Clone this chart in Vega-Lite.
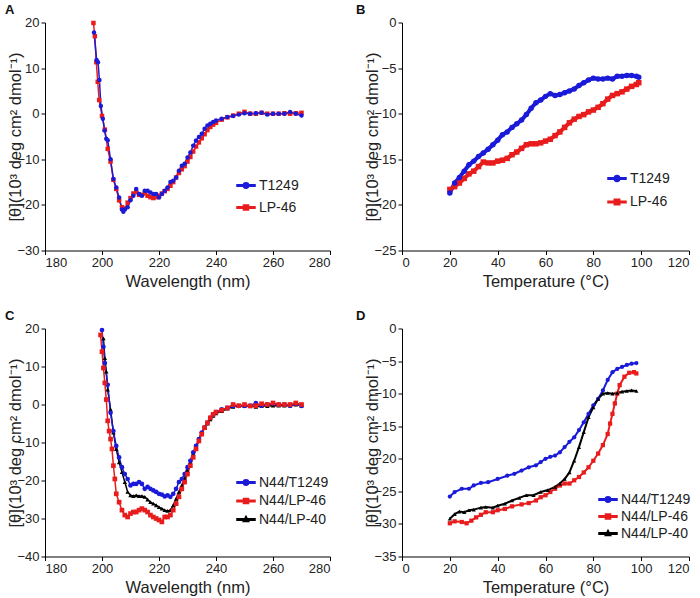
{
  "$schema": "https://vega.github.io/schema/vega-lite/v6.json",
  "background": "white",
  "padding": {"left": 5, "top": 3.5, "right": 5, "bottom": 5},
  "config": {
    "font": "Liberation Sans",
    "view": {"stroke": null},
    "axis": {"grid": false, "domainColor": "#000", "tickColor": "#000", "labelColor": "#222", "titleColor": "#222", "labelFontSize": 13, "titleFontSize": 16.5, "titleFontWeight": "normal", "tickSize": 4, "labelPadding": 2, "domainWidth": 1, "tickWidth": 1},
    "axisLeft": {"titleX": -29.5, "titleBaseline": "middle"},
    "title": {"fontSize": 13, "fontWeight": "bold", "anchor": "start", "frame": "group", "color": "#111"},
    "legend": {"orient": "none", "title": null, "labelFontSize": 14, "labelColor": "#222", "symbolSize": 324, "labelOffset": 3, "symbolOffset": 0, "padding": 0, "symbolOpacity": 1}
  },
  "resolve": {"scale": {"color": "independent", "shape": "independent", "x": "independent", "y": "independent"}, "legend": {"color": "independent", "shape": "independent"}},
  "datasets": {
    "a": [
      {"s":"LP-46","x":197,"y":19.9},{"s":"LP-46","x":197.5,"y":17},{"s":"LP-46","x":198,"y":11.3},{"s":"LP-46","x":198.5,"y":7},{"s":"LP-46","x":199,"y":3},{"s":"LP-46","x":200,"y":-0.5},{"s":"LP-46","x":201,"y":-3.5},{"s":"LP-46","x":202,"y":-7.7},{"s":"LP-46","x":203,"y":-10.5},{"s":"LP-46","x":204,"y":-14.5},{"s":"LP-46","x":205,"y":-16.5},{"s":"LP-46","x":206,"y":-19},{"s":"LP-46","x":207,"y":-20.5},{"s":"LP-46","x":208,"y":-20.8},{"s":"LP-46","x":209,"y":-19.5},{"s":"LP-46","x":210,"y":-18.5},{"s":"LP-46","x":211,"y":-17.5},{"s":"LP-46","x":212,"y":-17.2},{"s":"LP-46","x":213,"y":-17.8},{"s":"LP-46","x":214,"y":-17.8},{"s":"LP-46","x":215,"y":-17.5},{"s":"LP-46","x":216,"y":-18},{"s":"LP-46","x":217,"y":-18.3},{"s":"LP-46","x":218,"y":-18.5},{"s":"LP-46","x":219,"y":-18.3},{"s":"LP-46","x":220,"y":-18},{"s":"LP-46","x":221,"y":-17.5},{"s":"LP-46","x":222,"y":-17},{"s":"LP-46","x":223,"y":-16.5},{"s":"LP-46","x":224,"y":-15.8},{"s":"LP-46","x":225,"y":-15},{"s":"LP-46","x":226,"y":-14},{"s":"LP-46","x":227,"y":-13},{"s":"LP-46","x":228,"y":-12.2},{"s":"LP-46","x":229,"y":-11.5},{"s":"LP-46","x":230,"y":-10.5},{"s":"LP-46","x":231,"y":-9.5},{"s":"LP-46","x":232,"y":-8.3},{"s":"LP-46","x":233,"y":-7.2},{"s":"LP-46","x":234,"y":-6.3},{"s":"LP-46","x":235,"y":-5.4},{"s":"LP-46","x":236,"y":-4.5},{"s":"LP-46","x":237,"y":-3.6},{"s":"LP-46","x":238,"y":-2.9},{"s":"LP-46","x":239,"y":-2.4},{"s":"LP-46","x":240,"y":-2},{"s":"LP-46","x":242,"y":-1.3},{"s":"LP-46","x":244,"y":-0.8},{"s":"LP-46","x":246,"y":-0.4},{"s":"LP-46","x":248,"y":0},{"s":"LP-46","x":250,"y":0.4},{"s":"LP-46","x":252,"y":0},{"s":"LP-46","x":254,"y":0},{"s":"LP-46","x":256,"y":0.2},{"s":"LP-46","x":258,"y":0},{"s":"LP-46","x":260,"y":0},{"s":"LP-46","x":262,"y":0},{"s":"LP-46","x":264,"y":0.1},{"s":"LP-46","x":266,"y":0},{"s":"LP-46","x":268,"y":0.1},{"s":"LP-46","x":270,"y":0.2},
      {"s":"T1249","x":197.2,"y":17.8},{"s":"T1249","x":198.1,"y":11.8},{"s":"T1249","x":198.6,"y":11.3},{"s":"T1249","x":199.1,"y":7.4},{"s":"T1249","x":199.6,"y":1.7},{"s":"T1249","x":200.3,"y":-1.1},{"s":"T1249","x":200.9,"y":-3.7},{"s":"T1249","x":201.5,"y":-5.5},{"s":"T1249","x":202,"y":-5.8},{"s":"T1249","x":203,"y":-10},{"s":"T1249","x":204,"y":-14.3},{"s":"T1249","x":205,"y":-16.2},{"s":"T1249","x":206,"y":-18.4},{"s":"T1249","x":207,"y":-21},{"s":"T1249","x":207.5,"y":-21.5},{"s":"T1249","x":208,"y":-21},{"s":"T1249","x":209,"y":-20.5},{"s":"T1249","x":210,"y":-19},{"s":"T1249","x":211,"y":-18},{"s":"T1249","x":212,"y":-16.5},{"s":"T1249","x":213,"y":-17.6},{"s":"T1249","x":214,"y":-18},{"s":"T1249","x":215,"y":-16.9},{"s":"T1249","x":216,"y":-16.9},{"s":"T1249","x":217,"y":-17.3},{"s":"T1249","x":218,"y":-17.6},{"s":"T1249","x":219,"y":-17.6},{"s":"T1249","x":220,"y":-18.4},{"s":"T1249","x":221,"y":-17.6},{"s":"T1249","x":222,"y":-16.9},{"s":"T1249","x":223,"y":-16.2},{"s":"T1249","x":224,"y":-15},{"s":"T1249","x":225,"y":-14.7},{"s":"T1249","x":226,"y":-14},{"s":"T1249","x":227,"y":-12.5},{"s":"T1249","x":228,"y":-11.4},{"s":"T1249","x":229,"y":-11},{"s":"T1249","x":230,"y":-9.6},{"s":"T1249","x":231,"y":-8.5},{"s":"T1249","x":232,"y":-7},{"s":"T1249","x":233,"y":-5.9},{"s":"T1249","x":234,"y":-5.1},{"s":"T1249","x":235,"y":-4.4},{"s":"T1249","x":236,"y":-3.3},{"s":"T1249","x":237,"y":-2.6},{"s":"T1249","x":238,"y":-2.2},{"s":"T1249","x":239,"y":-1.8},{"s":"T1249","x":240,"y":-1.5},{"s":"T1249","x":242,"y":-1.1},{"s":"T1249","x":244,"y":-0.7},{"s":"T1249","x":246,"y":-0.5},{"s":"T1249","x":248,"y":-0.2},{"s":"T1249","x":250,"y":0.1},{"s":"T1249","x":252,"y":0},{"s":"T1249","x":254,"y":0.1},{"s":"T1249","x":256,"y":0.2},{"s":"T1249","x":258,"y":-0.2},{"s":"T1249","x":260,"y":0},{"s":"T1249","x":262,"y":0},{"s":"T1249","x":264,"y":0},{"s":"T1249","x":266,"y":0.4},{"s":"T1249","x":268,"y":0},{"s":"T1249","x":270,"y":-0.4}
    ],
    "b": [
      {"s":"LP-46","x":20,"y":-18.3},{"s":"LP-46","x":22,"y":-18},{"s":"LP-46","x":24,"y":-17.6},{"s":"LP-46","x":26,"y":-17.1},{"s":"LP-46","x":28,"y":-16.6},{"s":"LP-46","x":30,"y":-16.3},{"s":"LP-46","x":32,"y":-15.8},{"s":"LP-46","x":34,"y":-15.3},{"s":"LP-46","x":36,"y":-15.4},{"s":"LP-46","x":38,"y":-15.4},{"s":"LP-46","x":40,"y":-15.2},{"s":"LP-46","x":42,"y":-15.1},{"s":"LP-46","x":44,"y":-14.9},{"s":"LP-46","x":46,"y":-14.5},{"s":"LP-46","x":48,"y":-14.2},{"s":"LP-46","x":50,"y":-13.8},{"s":"LP-46","x":52,"y":-13.4},{"s":"LP-46","x":54,"y":-13.3},{"s":"LP-46","x":56,"y":-13.3},{"s":"LP-46","x":58,"y":-13.2},{"s":"LP-46","x":60,"y":-13},{"s":"LP-46","x":62,"y":-12.8},{"s":"LP-46","x":64,"y":-12.4},{"s":"LP-46","x":66,"y":-12},{"s":"LP-46","x":68,"y":-11.5},{"s":"LP-46","x":70,"y":-11},{"s":"LP-46","x":72,"y":-10.6},{"s":"LP-46","x":74,"y":-10.3},{"s":"LP-46","x":76,"y":-10.1},{"s":"LP-46","x":78,"y":-9.8},{"s":"LP-46","x":80,"y":-9.6},{"s":"LP-46","x":82,"y":-9.3},{"s":"LP-46","x":84,"y":-8.9},{"s":"LP-46","x":86,"y":-8.4},{"s":"LP-46","x":88,"y":-8},{"s":"LP-46","x":90,"y":-7.8},{"s":"LP-46","x":92,"y":-7.6},{"s":"LP-46","x":94,"y":-7.3},{"s":"LP-46","x":96,"y":-7},{"s":"LP-46","x":98,"y":-6.8},{"s":"LP-46","x":99,"y":-6.6},
      {"s":"T1249","x":20,"y":-18.7},{"s":"T1249","x":22,"y":-17.6},{"s":"T1249","x":24,"y":-17},{"s":"T1249","x":26,"y":-16.3},{"s":"T1249","x":28,"y":-15.6},{"s":"T1249","x":30,"y":-15.2},{"s":"T1249","x":32,"y":-14.7},{"s":"T1249","x":34,"y":-14.3},{"s":"T1249","x":36,"y":-13.9},{"s":"T1249","x":38,"y":-13.4},{"s":"T1249","x":40,"y":-12.9},{"s":"T1249","x":42,"y":-12.3},{"s":"T1249","x":44,"y":-12},{"s":"T1249","x":46,"y":-11.5},{"s":"T1249","x":48,"y":-11.1},{"s":"T1249","x":50,"y":-10.7},{"s":"T1249","x":52,"y":-10.1},{"s":"T1249","x":54,"y":-9.4},{"s":"T1249","x":56,"y":-8.8},{"s":"T1249","x":58,"y":-8.5},{"s":"T1249","x":60,"y":-8.1},{"s":"T1249","x":62,"y":-7.8},{"s":"T1249","x":64,"y":-8},{"s":"T1249","x":66,"y":-7.9},{"s":"T1249","x":68,"y":-7.7},{"s":"T1249","x":70,"y":-7.5},{"s":"T1249","x":72,"y":-7.3},{"s":"T1249","x":74,"y":-6.9},{"s":"T1249","x":76,"y":-6.6},{"s":"T1249","x":78,"y":-6.3},{"s":"T1249","x":80,"y":-6.1},{"s":"T1249","x":82,"y":-6.2},{"s":"T1249","x":84,"y":-6.2},{"s":"T1249","x":86,"y":-6.1},{"s":"T1249","x":88,"y":-6.2},{"s":"T1249","x":90,"y":-5.9},{"s":"T1249","x":92,"y":-5.9},{"s":"T1249","x":94,"y":-5.8},{"s":"T1249","x":96,"y":-5.8},{"s":"T1249","x":98,"y":-5.9},{"s":"T1249","x":99,"y":-6}
    ],
    "c": [
      {"s":"N44/LP-40","x":200.5,"y":17.4},{"s":"N44/LP-40","x":201,"y":12.2},{"s":"N44/LP-40","x":201.5,"y":8.7},{"s":"N44/LP-40","x":202,"y":3.9},{"s":"N44/LP-40","x":203,"y":-1.3},{"s":"N44/LP-40","x":204,"y":-7.4},{"s":"N44/LP-40","x":205,"y":-11.7},{"s":"N44/LP-40","x":206,"y":-15.2},{"s":"N44/LP-40","x":207,"y":-17.8},{"s":"N44/LP-40","x":208,"y":-20.4},{"s":"N44/LP-40","x":209,"y":-23},{"s":"N44/LP-40","x":210,"y":-23.9},{"s":"N44/LP-40","x":211,"y":-24.1},{"s":"N44/LP-40","x":212,"y":-23.9},{"s":"N44/LP-40","x":213,"y":-24.1},{"s":"N44/LP-40","x":214,"y":-24.1},{"s":"N44/LP-40","x":215,"y":-24.3},{"s":"N44/LP-40","x":216,"y":-25},{"s":"N44/LP-40","x":217,"y":-25.7},{"s":"N44/LP-40","x":218,"y":-26.1},{"s":"N44/LP-40","x":219,"y":-26.5},{"s":"N44/LP-40","x":220,"y":-27},{"s":"N44/LP-40","x":221,"y":-27.4},{"s":"N44/LP-40","x":222,"y":-27.8},{"s":"N44/LP-40","x":223,"y":-28},{"s":"N44/LP-40","x":224,"y":-27.8},{"s":"N44/LP-40","x":225,"y":-26.5},{"s":"N44/LP-40","x":226,"y":-24.8},{"s":"N44/LP-40","x":227,"y":-23},{"s":"N44/LP-40","x":228,"y":-21.3},{"s":"N44/LP-40","x":229,"y":-19.4},{"s":"N44/LP-40","x":230,"y":-17.4},{"s":"N44/LP-40","x":231,"y":-15.2},{"s":"N44/LP-40","x":232,"y":-13},{"s":"N44/LP-40","x":233,"y":-11.1},{"s":"N44/LP-40","x":234,"y":-9.3},{"s":"N44/LP-40","x":235,"y":-7.6},{"s":"N44/LP-40","x":236,"y":-6.1},{"s":"N44/LP-40","x":237,"y":-5},{"s":"N44/LP-40","x":238,"y":-3.9},{"s":"N44/LP-40","x":239,"y":-3},{"s":"N44/LP-40","x":240,"y":-2.3},{"s":"N44/LP-40","x":242,"y":-1.7},{"s":"N44/LP-40","x":244,"y":-1.1},{"s":"N44/LP-40","x":246,"y":-0.6},{"s":"N44/LP-40","x":248,"y":-0.4},{"s":"N44/LP-40","x":250,"y":-0.4},{"s":"N44/LP-40","x":252,"y":-0.4},{"s":"N44/LP-40","x":254,"y":-0.6},{"s":"N44/LP-40","x":256,"y":-0.4},{"s":"N44/LP-40","x":258,"y":-0.4},{"s":"N44/LP-40","x":260,"y":-0.3},{"s":"N44/LP-40","x":262,"y":-0.3},{"s":"N44/LP-40","x":264,"y":-0.3},{"s":"N44/LP-40","x":266,"y":-0.3},{"s":"N44/LP-40","x":268,"y":0},{"s":"N44/LP-40","x":270,"y":-0.3},
      {"s":"N44/T1249","x":200,"y":19.6},{"s":"N44/T1249","x":200.5,"y":15.2},{"s":"N44/T1249","x":201,"y":10.9},{"s":"N44/T1249","x":202,"y":5.2},{"s":"N44/T1249","x":203,"y":-2.2},{"s":"N44/T1249","x":204,"y":-7},{"s":"N44/T1249","x":205,"y":-10.9},{"s":"N44/T1249","x":206,"y":-13.9},{"s":"N44/T1249","x":207,"y":-16.5},{"s":"N44/T1249","x":208,"y":-18.3},{"s":"N44/T1249","x":209,"y":-19.6},{"s":"N44/T1249","x":210,"y":-21.3},{"s":"N44/T1249","x":211,"y":-20.9},{"s":"N44/T1249","x":212,"y":-20.9},{"s":"N44/T1249","x":213,"y":-20.4},{"s":"N44/T1249","x":214,"y":-20.9},{"s":"N44/T1249","x":215,"y":-22.2},{"s":"N44/T1249","x":216,"y":-21.7},{"s":"N44/T1249","x":217,"y":-22.2},{"s":"N44/T1249","x":218,"y":-22.6},{"s":"N44/T1249","x":219,"y":-23},{"s":"N44/T1249","x":220,"y":-23.5},{"s":"N44/T1249","x":221,"y":-23.7},{"s":"N44/T1249","x":222,"y":-24.2},{"s":"N44/T1249","x":223,"y":-23.9},{"s":"N44/T1249","x":224,"y":-24.3},{"s":"N44/T1249","x":225,"y":-23.5},{"s":"N44/T1249","x":226,"y":-22.2},{"s":"N44/T1249","x":227,"y":-20.4},{"s":"N44/T1249","x":228,"y":-19.6},{"s":"N44/T1249","x":229,"y":-18.3},{"s":"N44/T1249","x":230,"y":-16.5},{"s":"N44/T1249","x":231,"y":-14.8},{"s":"N44/T1249","x":232,"y":-12.6},{"s":"N44/T1249","x":233,"y":-10.9},{"s":"N44/T1249","x":234,"y":-9.1},{"s":"N44/T1249","x":235,"y":-7.4},{"s":"N44/T1249","x":236,"y":-6.1},{"s":"N44/T1249","x":237,"y":-4.8},{"s":"N44/T1249","x":238,"y":-3.5},{"s":"N44/T1249","x":239,"y":-2.6},{"s":"N44/T1249","x":240,"y":-2},{"s":"N44/T1249","x":242,"y":-1.3},{"s":"N44/T1249","x":244,"y":-0.9},{"s":"N44/T1249","x":246,"y":-0.4},{"s":"N44/T1249","x":248,"y":-0.4},{"s":"N44/T1249","x":250,"y":-0.4},{"s":"N44/T1249","x":252,"y":-0.3},{"s":"N44/T1249","x":254,"y":0.4},{"s":"N44/T1249","x":256,"y":-0.3},{"s":"N44/T1249","x":258,"y":0},{"s":"N44/T1249","x":260,"y":0.2},{"s":"N44/T1249","x":262,"y":0},{"s":"N44/T1249","x":264,"y":0},{"s":"N44/T1249","x":266,"y":-0.3},{"s":"N44/T1249","x":268,"y":0.2},{"s":"N44/T1249","x":270,"y":-0.4},
      {"s":"N44/LP-46","x":199.5,"y":18.3},{"s":"N44/LP-46","x":200,"y":13.9},{"s":"N44/LP-46","x":200.5,"y":9.6},{"s":"N44/LP-46","x":201,"y":5.7},{"s":"N44/LP-46","x":201.5,"y":1.3},{"s":"N44/LP-46","x":202,"y":-4.3},{"s":"N44/LP-46","x":202.5,"y":-7},{"s":"N44/LP-46","x":203,"y":-9.1},{"s":"N44/LP-46","x":203.5,"y":-11.7},{"s":"N44/LP-46","x":204,"y":-16.1},{"s":"N44/LP-46","x":204.5,"y":-19.6},{"s":"N44/LP-46","x":205,"y":-23.5},{"s":"N44/LP-46","x":206,"y":-25.7},{"s":"N44/LP-46","x":207,"y":-27.8},{"s":"N44/LP-46","x":208,"y":-29.1},{"s":"N44/LP-46","x":209,"y":-29.6},{"s":"N44/LP-46","x":210,"y":-28.7},{"s":"N44/LP-46","x":211,"y":-28.3},{"s":"N44/LP-46","x":212,"y":-28.3},{"s":"N44/LP-46","x":213,"y":-27.8},{"s":"N44/LP-46","x":214,"y":-27.4},{"s":"N44/LP-46","x":215,"y":-27.8},{"s":"N44/LP-46","x":216,"y":-28.3},{"s":"N44/LP-46","x":217,"y":-29.1},{"s":"N44/LP-46","x":218,"y":-29.6},{"s":"N44/LP-46","x":219,"y":-30},{"s":"N44/LP-46","x":220,"y":-30.4},{"s":"N44/LP-46","x":221,"y":-30.9},{"s":"N44/LP-46","x":222,"y":-29.6},{"s":"N44/LP-46","x":223,"y":-29.6},{"s":"N44/LP-46","x":224,"y":-29.1},{"s":"N44/LP-46","x":225,"y":-27.8},{"s":"N44/LP-46","x":226,"y":-26.1},{"s":"N44/LP-46","x":227,"y":-24.3},{"s":"N44/LP-46","x":228,"y":-22.2},{"s":"N44/LP-46","x":229,"y":-20.4},{"s":"N44/LP-46","x":230,"y":-18.3},{"s":"N44/LP-46","x":231,"y":-16.1},{"s":"N44/LP-46","x":232,"y":-13.9},{"s":"N44/LP-46","x":233,"y":-11.7},{"s":"N44/LP-46","x":234,"y":-9.6},{"s":"N44/LP-46","x":235,"y":-7.8},{"s":"N44/LP-46","x":236,"y":-6.1},{"s":"N44/LP-46","x":237,"y":-4.8},{"s":"N44/LP-46","x":238,"y":-3.5},{"s":"N44/LP-46","x":239,"y":-2.6},{"s":"N44/LP-46","x":240,"y":-2},{"s":"N44/LP-46","x":242,"y":-1.5},{"s":"N44/LP-46","x":244,"y":-0.9},{"s":"N44/LP-46","x":246,"y":0},{"s":"N44/LP-46","x":248,"y":-0.3},{"s":"N44/LP-46","x":250,"y":0},{"s":"N44/LP-46","x":252,"y":-0.4},{"s":"N44/LP-46","x":254,"y":-0.3},{"s":"N44/LP-46","x":256,"y":0.2},{"s":"N44/LP-46","x":258,"y":0},{"s":"N44/LP-46","x":260,"y":0.4},{"s":"N44/LP-46","x":262,"y":0},{"s":"N44/LP-46","x":264,"y":0},{"s":"N44/LP-46","x":266,"y":0},{"s":"N44/LP-46","x":268,"y":0.4},{"s":"N44/LP-46","x":270,"y":0}
    ],
    "d": [
      {"s":"N44/T1249","x":20,"y":-25.8},{"s":"N44/T1249","x":22,"y":-25.1},{"s":"N44/T1249","x":25,"y":-24.6},{"s":"N44/T1249","x":28,"y":-24.6},{"s":"N44/T1249","x":30,"y":-24.1},{"s":"N44/T1249","x":33,"y":-23.7},{"s":"N44/T1249","x":36,"y":-23.6},{"s":"N44/T1249","x":40,"y":-23.1},{"s":"N44/T1249","x":44,"y":-22.6},{"s":"N44/T1249","x":47,"y":-22.3},{"s":"N44/T1249","x":50,"y":-21.8},{"s":"N44/T1249","x":53,"y":-21.3},{"s":"N44/T1249","x":56,"y":-21},{"s":"N44/T1249","x":58,"y":-20.5},{"s":"N44/T1249","x":60,"y":-20},{"s":"N44/T1249","x":62,"y":-19.7},{"s":"N44/T1249","x":64,"y":-19.5},{"s":"N44/T1249","x":66,"y":-19},{"s":"N44/T1249","x":68,"y":-18.2},{"s":"N44/T1249","x":70,"y":-17.4},{"s":"N44/T1249","x":72,"y":-16.7},{"s":"N44/T1249","x":74,"y":-15.6},{"s":"N44/T1249","x":76,"y":-14.4},{"s":"N44/T1249","x":78,"y":-13.1},{"s":"N44/T1249","x":80,"y":-11.8},{"s":"N44/T1249","x":82,"y":-10.8},{"s":"N44/T1249","x":84,"y":-9.5},{"s":"N44/T1249","x":86,"y":-7.9},{"s":"N44/T1249","x":88,"y":-6.7},{"s":"N44/T1249","x":90,"y":-6.2},{"s":"N44/T1249","x":92,"y":-5.9},{"s":"N44/T1249","x":94,"y":-5.6},{"s":"N44/T1249","x":96,"y":-5.4},{"s":"N44/T1249","x":98,"y":-5.3},
      {"s":"N44/LP-46","x":20,"y":-29.9},{"s":"N44/LP-46","x":22,"y":-29.6},{"s":"N44/LP-46","x":25,"y":-29.7},{"s":"N44/LP-46","x":27,"y":-29.9},{"s":"N44/LP-46","x":29,"y":-29.5},{"s":"N44/LP-46","x":31,"y":-29},{"s":"N44/LP-46","x":33,"y":-28.6},{"s":"N44/LP-46","x":35,"y":-28.2},{"s":"N44/LP-46","x":38,"y":-28.2},{"s":"N44/LP-46","x":40,"y":-27.9},{"s":"N44/LP-46","x":43,"y":-27.7},{"s":"N44/LP-46","x":46,"y":-27.3},{"s":"N44/LP-46","x":50,"y":-27},{"s":"N44/LP-46","x":53,"y":-26.8},{"s":"N44/LP-46","x":56,"y":-26.4},{"s":"N44/LP-46","x":58,"y":-25.9},{"s":"N44/LP-46","x":60,"y":-25.6},{"s":"N44/LP-46","x":62,"y":-25.1},{"s":"N44/LP-46","x":64,"y":-24.6},{"s":"N44/LP-46","x":66,"y":-24.1},{"s":"N44/LP-46","x":68,"y":-23.8},{"s":"N44/LP-46","x":70,"y":-23.8},{"s":"N44/LP-46","x":72,"y":-23.3},{"s":"N44/LP-46","x":74,"y":-22.8},{"s":"N44/LP-46","x":76,"y":-22.1},{"s":"N44/LP-46","x":78,"y":-21.3},{"s":"N44/LP-46","x":80,"y":-20.3},{"s":"N44/LP-46","x":82,"y":-19.2},{"s":"N44/LP-46","x":84,"y":-17.9},{"s":"N44/LP-46","x":86,"y":-16.2},{"s":"N44/LP-46","x":87,"y":-14.6},{"s":"N44/LP-46","x":88,"y":-13.1},{"s":"N44/LP-46","x":89,"y":-11.5},{"s":"N44/LP-46","x":90,"y":-10},{"s":"N44/LP-46","x":91,"y":-8.7},{"s":"N44/LP-46","x":93,"y":-7.4},{"s":"N44/LP-46","x":95,"y":-6.8},{"s":"N44/LP-46","x":97,"y":-6.7},{"s":"N44/LP-46","x":98,"y":-6.9},
      {"s":"N44/LP-40","x":20,"y":-29.2},{"s":"N44/LP-40","x":22,"y":-28.5},{"s":"N44/LP-40","x":24,"y":-28.1},{"s":"N44/LP-40","x":26,"y":-28.2},{"s":"N44/LP-40","x":28,"y":-27.9},{"s":"N44/LP-40","x":30,"y":-27.8},{"s":"N44/LP-40","x":33,"y":-27.5},{"s":"N44/LP-40","x":35,"y":-27.4},{"s":"N44/LP-40","x":38,"y":-27.5},{"s":"N44/LP-40","x":40,"y":-27.2},{"s":"N44/LP-40","x":43,"y":-26.9},{"s":"N44/LP-40","x":46,"y":-26.4},{"s":"N44/LP-40","x":49,"y":-26},{"s":"N44/LP-40","x":52,"y":-25.6},{"s":"N44/LP-40","x":55,"y":-25.6},{"s":"N44/LP-40","x":58,"y":-25.1},{"s":"N44/LP-40","x":61,"y":-24.8},{"s":"N44/LP-40","x":64,"y":-24.3},{"s":"N44/LP-40","x":66,"y":-23.8},{"s":"N44/LP-40","x":68,"y":-23.1},{"s":"N44/LP-40","x":70,"y":-22.1},{"s":"N44/LP-40","x":72,"y":-20.3},{"s":"N44/LP-40","x":74,"y":-18.2},{"s":"N44/LP-40","x":76,"y":-15.9},{"s":"N44/LP-40","x":78,"y":-13.6},{"s":"N44/LP-40","x":80,"y":-12.1},{"s":"N44/LP-40","x":82,"y":-10.8},{"s":"N44/LP-40","x":84,"y":-10},{"s":"N44/LP-40","x":86,"y":-9.9},{"s":"N44/LP-40","x":88,"y":-10},{"s":"N44/LP-40","x":90,"y":-9.9},{"s":"N44/LP-40","x":92,"y":-9.7},{"s":"N44/LP-40","x":94,"y":-9.6},{"s":"N44/LP-40","x":96,"y":-9.5},{"s":"N44/LP-40","x":98,"y":-9.6}
    ]
  },
  "columns": 2,
  "spacing": {"row": 78, "column": 72},
  "bounds": "flush",
  "concat": [
    {
      "title": {"text": "A", "dx": -40, "offset": -0.5},
      "width": 285, "height": 228,
      "data": {"name": "a"},
      "encoding": {
        "x": {"field": "x", "type": "quantitative", "scale": {"domain": [180, 280], "nice": false, "zero": false}, "axis": {"values": [180, 200, 220, 240, 260, 280], "title": "Wavelength (nm)"}},
        "y": {"field": "y", "type": "quantitative", "scale": {"domain": [-30, 20], "nice": false, "zero": false}, "axis": {"values": [-30, -20, -10, 0, 10, 20], "title": "[θ](10³ deg cm² dmol⁻¹)"}},
        "color": {"field": "s", "type": "nominal", "scale": {"domain": ["T1249", "LP-46"], "range": ["#1a1ad8", "#e81c1c"]}, "legend": {"legendX": 191, "legendY": 153, "rowPadding": 5}}
      },
      "layer": [
        {"mark": {"type": "line", "strokeWidth": 1.5}},
        {"mark": {"type": "point", "filled": true, "opacity": 0},
         "encoding": {"shape": {"field": "s", "type": "nominal", "scale": {"domain": ["T1249", "LP-46"], "range": ["M-1,-0.08H1V0.08H-1ZM0.3,0A0.3,0.3,0,1,1,-0.3,0A0.3,0.3,0,1,1,0.3,0Z", "M-1,-0.08H1V0.08H-1ZM-0.28,-0.28H0.28V0.28H-0.28Z"]}, "legend": {"legendX": 191, "legendY": 153, "rowPadding": 5}}}},
        {"transform": [{"filter": "datum.s === 'LP-46'"}], "mark": {"type": "point", "shape": "square", "filled": true, "size": 20, "opacity": 1}},
        {"transform": [{"filter": "datum.s === 'T1249'"}], "mark": {"type": "point", "shape": "circle", "filled": true, "size": 20, "opacity": 1}}
      ]
    },
    {
      "title": {"text": "B", "dx": -46, "offset": -0.5},
      "width": 287, "height": 228,
      "data": {"name": "b"},
      "encoding": {
        "x": {"field": "x", "type": "quantitative", "scale": {"domain": [0, 120], "nice": false}, "axis": {"values": [0, 20, 40, 60, 80, 100, 120], "title": "Temperature (°C)"}},
        "y": {"field": "y", "type": "quantitative", "scale": {"domain": [-25, 0], "nice": false}, "axis": {"values": [-25, -20, -15, -10, -5, 0], "title": "[θ](10³ deg cm² dmol⁻¹)"}},
        "color": {"field": "s", "type": "nominal", "scale": {"domain": ["T1249", "LP-46"], "range": ["#1a1ad8", "#e81c1c"]}, "legend": {"legendX": 205, "legendY": 146, "rowPadding": 6.5}}
      },
      "layer": [
        {"mark": {"type": "line", "strokeWidth": 4}},
        {"mark": {"type": "point", "filled": true, "opacity": 0},
         "encoding": {"shape": {"field": "s", "type": "nominal", "scale": {"domain": ["T1249", "LP-46"], "range": ["M-1,-0.08H1V0.08H-1ZM0.33,0A0.33,0.33,0,1,1,-0.33,0A0.33,0.33,0,1,1,0.33,0Z", "M-1,-0.08H1V0.08H-1ZM-0.3,-0.3H0.3V0.3H-0.3Z"]}, "legend": {"legendX": 205, "legendY": 146, "rowPadding": 6.5}}}},
        {"transform": [{"filter": "datum.s === 'LP-46'"}], "mark": {"type": "point", "shape": "square", "filled": true, "size": 30, "opacity": 1}},
        {"transform": [{"filter": "datum.s === 'T1249'"}], "mark": {"type": "point", "shape": "circle", "filled": true, "size": 30, "opacity": 1}}
      ]
    },
    {
      "title": {"text": "C", "dx": -40, "offset": -0.5},
      "width": 285, "height": 228,
      "data": {"name": "c"},
      "encoding": {
        "x": {"field": "x", "type": "quantitative", "scale": {"domain": [180, 280], "nice": false, "zero": false}, "axis": {"values": [180, 200, 220, 240, 260, 280], "title": "Wavelength (nm)"}},
        "y": {"field": "y", "type": "quantitative", "scale": {"domain": [-40, 20], "nice": false, "zero": false}, "axis": {"values": [-40, -30, -20, -10, 0, 10, 20], "title": "[θ](10³ deg cm² dmol⁻¹)"}},
        "color": {"field": "s", "type": "nominal", "scale": {"domain": ["N44/T1249", "N44/LP-46", "N44/LP-40"], "range": ["#1a1ad8", "#e81c1c", "#000000"]}, "legend": {"legendX": 191, "legendY": 144, "rowPadding": 1.5}}
      },
      "layer": [
        {"mark": {"type": "line", "strokeWidth": 1.5}},
        {"mark": {"type": "point", "filled": true, "opacity": 0},
         "encoding": {"shape": {"field": "s", "type": "nominal", "scale": {"domain": ["N44/T1249", "N44/LP-46", "N44/LP-40"], "range": ["M-1,-0.08H1V0.08H-1ZM0.3,0A0.3,0.3,0,1,1,-0.3,0A0.3,0.3,0,1,1,0.3,0Z", "M-1,-0.08H1V0.08H-1ZM-0.28,-0.28H0.28V0.28H-0.28Z", "M-1,-0.08H1V0.08H-1ZM0,-0.34L0.3,0.22H-0.3Z"]}, "legend": {"legendX": 191, "legendY": 144, "rowPadding": 1.5}}}},
        {"transform": [{"filter": "datum.s === 'N44/LP-40'"}], "mark": {"type": "point", "shape": "triangle-up", "filled": true, "size": 20, "opacity": 1}},
        {"transform": [{"filter": "datum.s === 'N44/T1249'"}], "mark": {"type": "point", "shape": "circle", "filled": true, "size": 22, "opacity": 1}},
        {"transform": [{"filter": "datum.s === 'N44/LP-46'"}], "mark": {"type": "point", "shape": "square", "filled": true, "size": 22, "opacity": 1}}
      ]
    },
    {
      "title": {"text": "D", "dx": -46, "offset": -0.5},
      "width": 287, "height": 228,
      "data": {"name": "d"},
      "encoding": {
        "x": {"field": "x", "type": "quantitative", "scale": {"domain": [0, 120], "nice": false}, "axis": {"values": [0, 20, 40, 60, 80, 100, 120], "title": "Temperature (°C)"}},
        "y": {"field": "y", "type": "quantitative", "scale": {"domain": [-35, 0], "nice": false}, "axis": {"values": [-35, -30, -25, -20, -15, -10, -5, 0], "title": "[θ](10³ deg cm² dmol⁻¹)"}},
        "color": {"field": "s", "type": "nominal", "scale": {"domain": ["N44/T1249", "N44/LP-46", "N44/LP-40"], "range": ["#1a1ad8", "#e81c1c", "#000000"]}, "legend": {"legendX": 196, "legendY": 161, "rowPadding": 0}}
      },
      "layer": [
        {"mark": {"type": "line", "strokeWidth": 2}},
        {"mark": {"type": "point", "filled": true, "opacity": 0},
         "encoding": {"shape": {"field": "s", "type": "nominal", "scale": {"domain": ["N44/T1249", "N44/LP-46", "N44/LP-40"], "range": ["M-1,-0.08H1V0.08H-1ZM0.3,0A0.3,0.3,0,1,1,-0.3,0A0.3,0.3,0,1,1,0.3,0Z", "M-1,-0.08H1V0.08H-1ZM-0.28,-0.28H0.28V0.28H-0.28Z", "M-1,-0.08H1V0.08H-1ZM0,-0.34L0.3,0.22H-0.3Z"]}, "legend": {"legendX": 196, "legendY": 161, "rowPadding": 0}}}},
        {"transform": [{"filter": "datum.s === 'N44/T1249'"}], "mark": {"type": "point", "shape": "circle", "filled": true, "size": 18, "opacity": 1}},
        {"transform": [{"filter": "datum.s === 'N44/LP-46'"}], "mark": {"type": "point", "shape": "square", "filled": true, "size": 18, "opacity": 1}},
        {"transform": [{"filter": "datum.s === 'N44/LP-40'"}], "mark": {"type": "point", "shape": "triangle-up", "filled": true, "size": 18, "opacity": 1}}
      ]
    }
  ]
}
